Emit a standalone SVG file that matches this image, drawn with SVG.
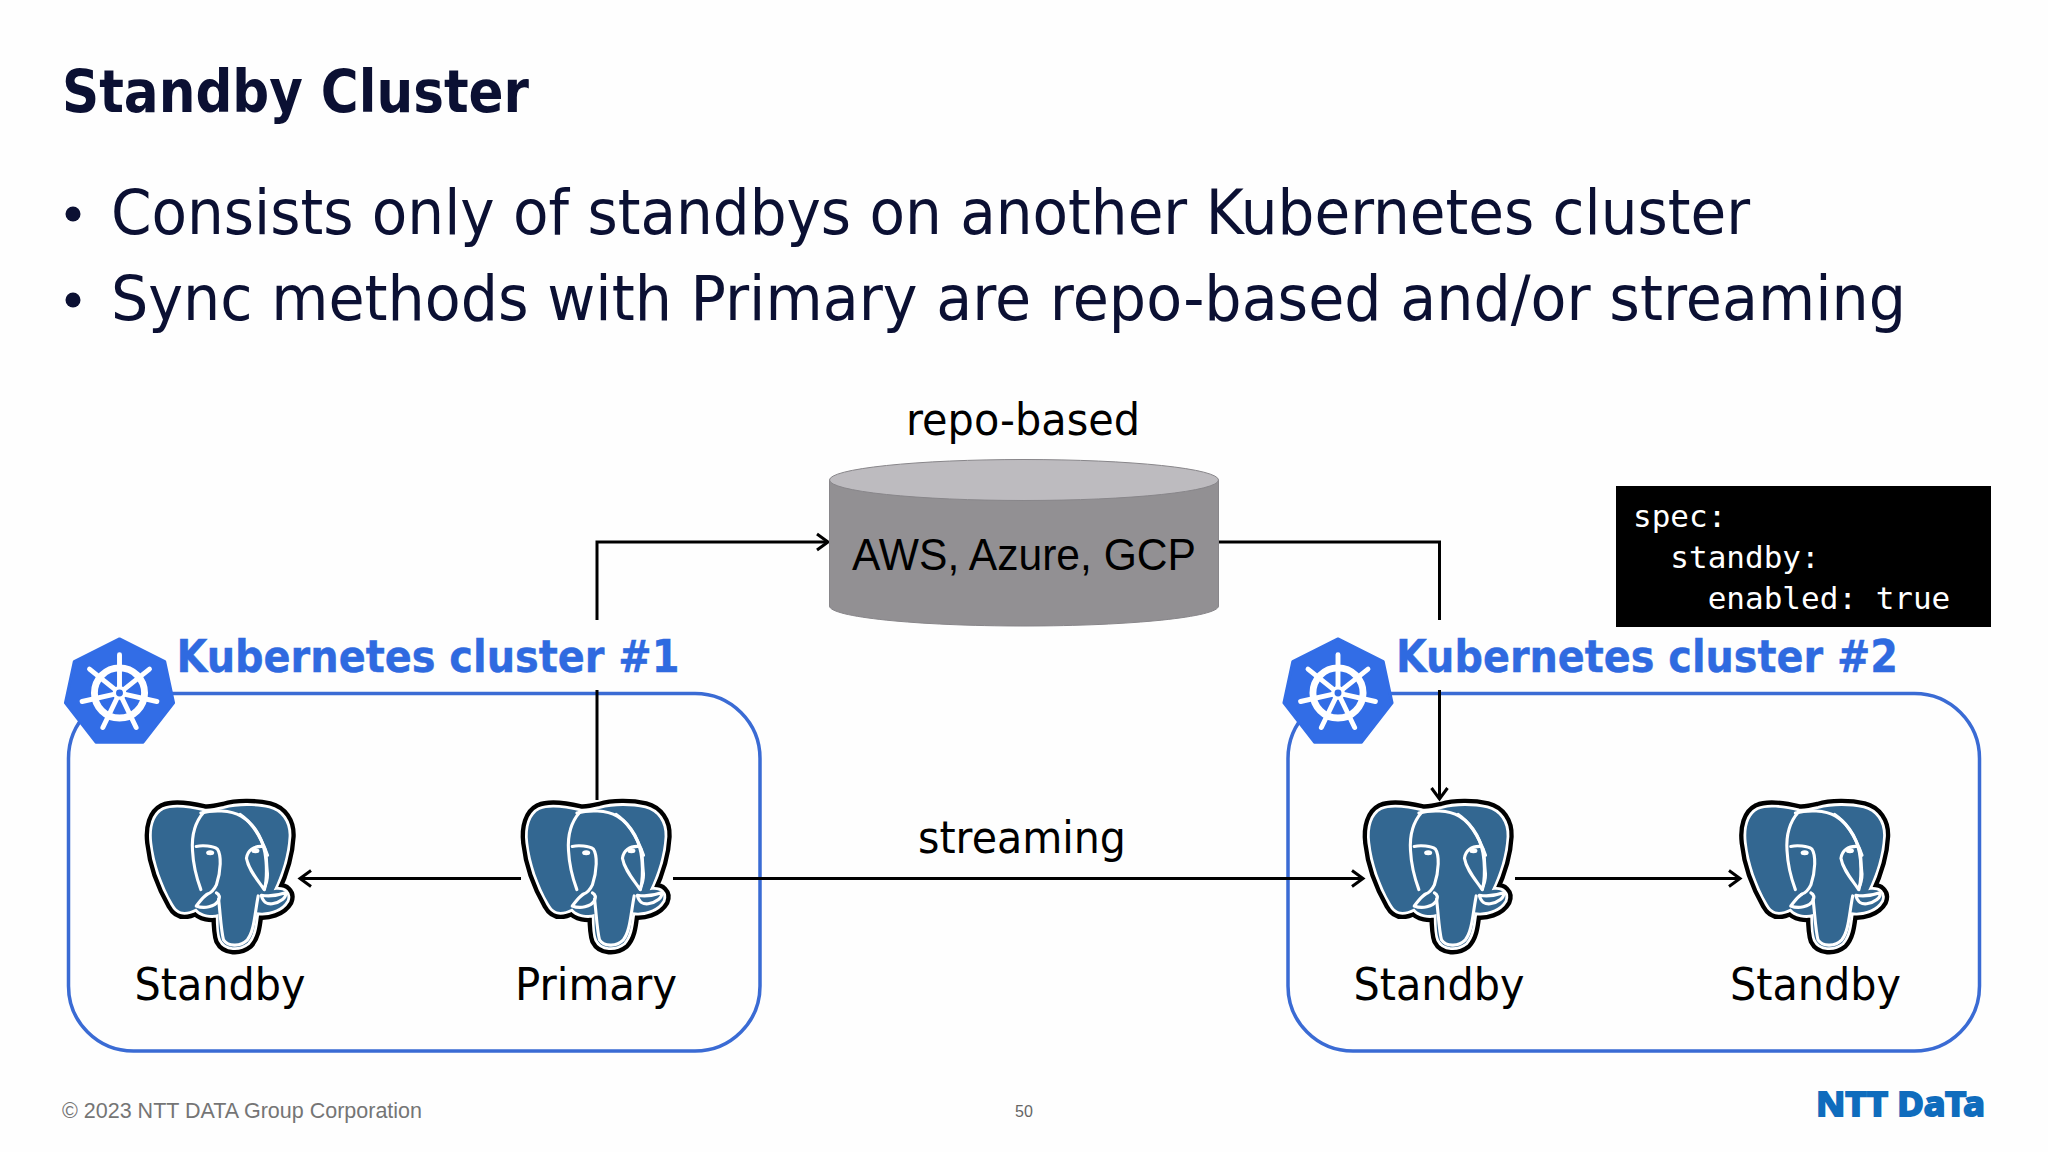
<svg xmlns="http://www.w3.org/2000/svg" xmlns:xlink="http://www.w3.org/1999/xlink" width="2048" height="1152" viewBox="0 0 2048 1152">
<style>
text{font-family:"DejaVu Sans","Noto Sans",sans-serif}
.head{fill:#0b1033}
.t{fill:#0b1033;font-size:62px}
.lab{fill:#000;font-size:44px}
.kl{fill:#2f6ae0;font-size:44px;font-weight:600;stroke:#2f6ae0;stroke-width:.4}
.c{fill:none;stroke:#000;stroke-width:3}
.box{fill:none;stroke:#3a6bd4;stroke-width:3.5}
.code{font-family:"DejaVu Sans Mono","Liberation Mono",monospace;font-size:31px;fill:#fff;white-space:pre}
</style>
<defs>
<marker id="arr" viewBox="0 0 20 20" refX="17" refY="10" markerWidth="20" markerHeight="20" markerUnits="userSpaceOnUse" orient="auto"><path d="M6 2 L17 10 L6 18" fill="none" stroke="#000" stroke-width="3"/></marker>
<path id="sil" d="M215 50C165 38 115 32 85 45C55 60 42 100 48 150C55 215 80 285 115 345C130 372 150 380 190 360C205 380 240 385 262 378C262 410 262 440 270 460C285 490 330 490 355 470C380 445 380 400 385 372C420 378 465 365 482 335C490 315 478 295 440 302C465 250 485 190 488 130C490 85 465 50 425 40C380 30 320 30 280 42C255 48 235 52 215 50Z"/>
<symbol id="pg" viewBox="0 0 190 180" width="190" height="180">
<g transform="scale(.3333) translate(22,17) scale(.93,.94)">
<use xlink:href="#sil" fill="#000" stroke="#000" stroke-width="46" stroke-linejoin="round"/>
<use xlink:href="#sil" fill="#fff" stroke="#fff" stroke-width="18" stroke-linejoin="round"/>
<use xlink:href="#sil" fill="#336791"/>
<g fill="none" stroke="#fff" stroke-width="10" stroke-linecap="round" stroke-linejoin="round">
<path d="M215 52C185 85 175 130 178 175C180 215 190 260 205 300"/>
<path d="M205 55C245 45 300 45 335 65C385 95 410 150 415 205C418 245 418 270 410 300"/>
<path d="M332 60C370 85 400 135 420 190"/>
<path d="M190 162C210 158 245 160 258 170C272 190 270 240 255 285C248 300 240 310 225 315"/>
<path d="M352 200C355 175 375 160 405 162C418 165 415 210 420 250C420 270 415 285 408 298C385 265 358 235 352 200Z"/>
<path d="M225 315C210 325 200 340 190 352C215 362 250 355 262 335C268 322 262 314 255 310"/>
<path d="M400 318C425 322 455 318 478 310C482 325 462 340 435 345C420 347 405 340 400 318Z"/>
<path d="M262 330C268 380 270 430 278 460C295 485 335 480 355 460C378 430 378 380 390 320"/>
</g>
<ellipse cx="235" cy="182" rx="13" ry="8" fill="#fff"/>
<ellipse cx="381" cy="176" rx="13" ry="8" fill="#fff"/>
</g>
</symbol>
<symbol id="k8s" viewBox="0 0 120 120" width="118" height="118" overflow="visible">
<path d="M60 6L106 29L115 71L84 111L36 111L5 71L14 29Z" fill="#326de6" stroke="#326de6" stroke-width="3" stroke-linejoin="round"/>
<g transform="translate(60,61)">
<circle r="25.5" fill="none" stroke="#fff" stroke-width="7"/>
<g stroke="#fff" stroke-width="5" stroke-linecap="round">
<line y1="-6" y2="-39"/>
<line y1="-6" y2="-39" transform="rotate(51.43)"/>
<line y1="-6" y2="-39" transform="rotate(102.86)"/>
<line y1="-6" y2="-39" transform="rotate(154.29)"/>
<line y1="-6" y2="-39" transform="rotate(205.71)"/>
<line y1="-6" y2="-39" transform="rotate(257.14)"/>
<line y1="-6" y2="-39" transform="rotate(308.57)"/>
</g>
<circle r="7" fill="#fff"/>
<circle r="3.5" fill="#326de6"/>
</g>
</symbol>
</defs>
<rect width="2048" height="1152" fill="#fefefe"/>
<g id="title">
<text x="62" y="112" class="head" font-size="58" font-weight="700" textLength="467" lengthAdjust="spacingAndGlyphs">Standby Cluster</text>
<circle cx="73" cy="214" r="7.5" fill="#0b1033"/>
<text x="111" y="234" class="t" textLength="1639" lengthAdjust="spacingAndGlyphs">Consists only of standbys on another Kubernetes cluster</text>
<circle cx="73" cy="300" r="7.5" fill="#0b1033"/>
<text x="111" y="320" class="t" textLength="1795" lengthAdjust="spacingAndGlyphs">Sync methods with Primary are repo-based and/or streaming</text>
</g>
<g id="cluster1">
<rect class="box" x="68.5" y="693.5" width="691.5" height="357.5" rx="65"/>
<use xlink:href="#k8s" x="60.5" y="633"/>
<text x="176.5" y="672" class="kl" textLength="503" lengthAdjust="spacingAndGlyphs">Kubernetes cluster #1</text>
</g>
<g id="cluster2">
<rect class="box" x="1288" y="693.5" width="691.5" height="357.5" rx="65"/>
<use xlink:href="#k8s" x="1279" y="633"/>
<text x="1396" y="672" class="kl" textLength="502" lengthAdjust="spacingAndGlyphs">Kubernetes cluster #2</text>
</g>
<g id="connectors">
<path class="c" d="M597 620V542H828" marker-end="url(#arr)"/>
<path class="c" d="M597 690V800"/>
<path class="c" d="M1218 542H1439.5V620"/>
<path class="c" d="M1439.5 690V799" marker-end="url(#arr)"/>
<path class="c" d="M521 878.5H300" marker-end="url(#arr)"/>
<path class="c" d="M673 878.5H1363" marker-end="url(#arr)"/>
<path class="c" d="M1515 878.5H1740" marker-end="url(#arr)"/>
</g>
<g id="repo">
<text x="1023" y="434.5" class="lab" text-anchor="middle" textLength="234" lengthAdjust="spacingAndGlyphs">repo-based</text>
<path d="M829.5 480V606C829.5 617 916 626 1024 626C1132 626 1218.5 617 1218.5 606V480Z" fill="#929093" stroke="#88868a" stroke-width="1"/>
<ellipse cx="1024" cy="480" rx="194.5" ry="20.5" fill="#bdbbbf" stroke="#88868a" stroke-width="1"/>
<text x="1024" y="570" text-anchor="middle" font-size="44" fill="#000" style="font-family:'Liberation Sans',Arial,sans-serif" textLength="344" lengthAdjust="spacingAndGlyphs">AWS, Azure, GCP</text>
</g>
<g id="standby-a"><use xlink:href="#pg" x="130" y="790"/><text x="220" y="1000" class="lab" text-anchor="middle" textLength="171" lengthAdjust="spacingAndGlyphs">Standby</text></g>
<g id="primary"><use xlink:href="#pg" x="506" y="790"/><text x="596" y="1000" class="lab" text-anchor="middle" textLength="162" lengthAdjust="spacingAndGlyphs">Primary</text></g>
<g id="standby-b"><use xlink:href="#pg" x="1348" y="790"/><text x="1439" y="1000" class="lab" text-anchor="middle" textLength="171" lengthAdjust="spacingAndGlyphs">Standby</text></g>
<g id="standby-c"><use xlink:href="#pg" x="1724.5" y="790"/><text x="1815.5" y="1000" class="lab" text-anchor="middle" textLength="171" lengthAdjust="spacingAndGlyphs">Standby</text></g>
<text id="streaming" x="1022" y="853" class="lab" text-anchor="middle" textLength="208" lengthAdjust="spacingAndGlyphs">streaming</text>
<g id="spec">
<rect x="1616" y="486" width="375" height="141" fill="#000"/>
<text x="1633" y="526.5" class="code">spec:</text>
<text x="1633" y="567.5" class="code" xml:space="preserve">  standby:</text>
<text x="1633" y="608.5" class="code" xml:space="preserve">    enabled: true</text>
</g>
<g id="footer">
<text x="62" y="1118" font-size="21.5" fill="#757575" style="font-family:'Liberation Sans',Arial,sans-serif">© 2023 NTT DATA Group Corporation</text>
<text x="1024" y="1117" font-size="16" fill="#666" text-anchor="middle" style="font-family:'Liberation Sans',Arial,sans-serif">50</text>
<text x="1816" y="1116" font-size="34" font-weight="700" fill="#0f6cbd" stroke="#0f6cbd" stroke-width="2" style="font-family:'Noto Sans',sans-serif" textLength="169" lengthAdjust="spacingAndGlyphs">NTT DaTa</text>
</g>
</svg>
